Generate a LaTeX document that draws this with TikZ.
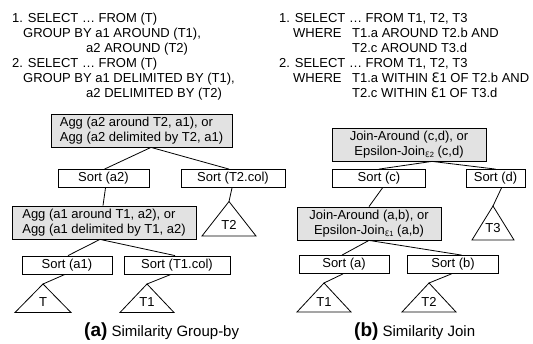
\documentclass[tikz,border=0pt]{standalone}
\usepackage{fontspec}
\setmainfont{Liberation Sans}
\newfontfamily\dejavu{DejaVu Sans}
\definecolor{opgray}{RGB}{226,226,226}
\newcommand{\eps}{{\dejavu Ɛ}}
\newcommand{\esub}[1]{\raisebox{-2pt}{\fontsize{7.5}{8}\selectfont{\dejavu Ɛ}#1}}
\begin{document}
\begin{tikzpicture}[x=1pt,y=-1pt,
  every node/.style={font=\fontsize{13}{15}\selectfont, inner sep=0pt},
  qline/.style={anchor=base west},
  opbox/.style={draw, fill=opgray, line width=0.8pt, minimum height=33pt, align=left},
  joinbox/.style={opbox, align=center},
  sortbox/.style={draw, line width=0.8pt, minimum height=18pt},
  tri/.style={draw, line width=0.8pt},
  conn/.style={line width=0.8pt},
  captext/.style={anchor=base west, font=\fontsize{15}{17}\selectfont},
  capletter/.style={font=\fontsize{19}{19}\selectfont\bfseries}
]
\useasboundingbox (0,0) rectangle (533,344);

% ---------- queries, left ----------
\node[qline] (ql1) at (12,23) {1. SELECT … FROM (T)};
\node[qline] (ql2) at (23,38) {GROUP BY a1 AROUND (T1),};
\node[qline] (ql3) at (86,52.5) {a2 AROUND (T2)};
\node[qline] (ql4) at (12,68) {2. SELECT … FROM (T)};
\node[qline] (ql5) at (23,83) {GROUP BY a1 DELIMITED BY (T1),};
\node[qline] (ql6) at (86,98) {a2 DELIMITED BY (T2)};

% ---------- queries, right ----------
\node[qline] (qr1) at (279,23) {1. SELECT … FROM T1, T2, T3};
\node[qline] (qr2w) at (293,38) {WHERE};
\node[qline] (qr2) at (352,38) {T1.a AROUND T2.b AND};
\node[qline] (qr3) at (352,52.5) {T2.c AROUND T3.d};
\node[qline] (qr4) at (279,68) {2. SELECT … FROM T1, T2, T3};
\node[qline] (qr5w) at (293,83) {WHERE};
\node[qline] (qr5) at (352,83) {T1.a WITHIN \eps1 OF T2.b AND};
\node[qline] (qr6) at (352,98) {T2.c WITHIN \eps1 OF T3.d};

% ---------- left tree ----------
\node[opbox, minimum width=181pt] (agg1) at (141.5,130.5) {Agg (a2 around T2, a1), or\\Agg (a2 delimited by T2, a1)};
\node[sortbox, minimum width=91pt] (sa2) at (103.5,178.5) {Sort (a2)};
\node[sortbox, minimum width=104pt] (st2) at (233,178.5) {Sort (T2.col)};
\node[opbox, minimum width=184pt] (agg2) at (104,222.5) {Agg (a1 around T1, a2), or\\Agg (a1 delimited by T1, a2)};
\node[sortbox, minimum width=90pt] (sa1) at (67,265) {Sort (a1)};
\node[sortbox, minimum width=106pt] (st1) at (177,265) {Sort (T1.col)};

\coordinate (aT2) at (229,201.5);
\draw[tri] (aT2) -- ++(-27,34.5) -- ++(54,0) -- cycle;
\node (lT2) at (229,225) {T2};
\coordinate (aT) at (43,284);
\draw[tri] (aT) -- ++(-28,28.5) -- ++(56,0) -- cycle;
\node (lT) at (43,302.5) {T};
\coordinate (aT1) at (147,284);
\draw[tri] (aT1) -- ++(-27,28.5) -- ++(54,0) -- cycle;
\node (lT1) at (147,302.5) {T1};

\coordinate (jagg1) at ([xshift=9.5pt]agg1.south);
\coordinate (jagg2) at ([xshift=-4pt]agg2.south);
\draw[conn] ([xshift=1pt]sa2.north) -- (jagg1) -- ([xshift=-4pt]st2.north);
\draw[conn] ([xshift=2pt]sa2.south) -- ([xshift=-1pt]agg2.north);
\draw[conn] ([xshift=-1pt]st2.south) -- (aT2);
\draw[conn] ([xshift=1pt]sa1.north) -- (jagg2) -- ([xshift=-2pt]st1.north);
\draw[conn] ([xshift=-2pt]sa1.south) -- (aT);
\draw[conn] ([xshift=-6pt]st1.south) -- (aT1);

% ---------- right tree ----------
\node[joinbox, minimum width=154pt] (jn1) at (409,144.5) {Join-Around (c,d), or\\Epsilon-Join\esub{2} (c,d)};
\node[sortbox, minimum width=93pt] (sc) at (379,178.5) {Sort (c)};
\node[sortbox, minimum width=59pt] (sd) at (495.5,178.5) {Sort (d)};
\node[joinbox, minimum width=144pt] (jn2) at (369,223.5) {Join-Around (a,b), or\\Epsilon-Join\esub{1} (a,b)};
\node[sortbox, minimum width=90pt] (sa) at (344,264.5) {Sort (a)};
\node[sortbox, minimum width=91pt] (sb) at (453,264.5) {Sort (b)};

\coordinate (aT3) at (493,206);
\draw[tri] (aT3) -- ++(-21,34) -- ++(42,0) -- cycle;
\node (lT3) at (493,228) {T3};
\coordinate (aR1) at (324,283);
\draw[tri] (aR1) -- ++(-27,29) -- ++(54,0) -- cycle;
\node (lR1) at (324,302) {T1};
\coordinate (aR2) at (429,283);
\draw[tri] (aR2) -- ++(-27,29) -- ++(54,0) -- cycle;
\node (lR2) at (429,302) {T2};

\coordinate (jjn1) at ([xshift=23pt]jn1.south);
\coordinate (jjn2) at (jn2.south);
\draw[conn] ([xshift=0pt]sc.north) -- (jjn1) -- (sd.north);
\draw[conn] ([xshift=3.5pt]sc.south) -- (jn2.north);
\draw[conn] ([xshift=6pt]sd.south) -- (aT3);
\draw[conn] ([xshift=-2pt]sa.north) -- (jjn2) -- ([xshift=8.5pt]sb.north);
\draw[conn] ([xshift=-1pt]sa.south) -- (aR1);
\draw[conn] ([xshift=-1.5pt]sb.south) -- (aR2);

% ---------- captions ----------
\node[captext] (capa) at (84,337) {{\fontsize{19}{19}\selectfont\bfseries (a)} Similarity Group-by};
\node[captext] (capb) at (354,337) {{\fontsize{19}{19}\selectfont\bfseries (b)} Similarity Join};
\end{tikzpicture}
\end{document}
